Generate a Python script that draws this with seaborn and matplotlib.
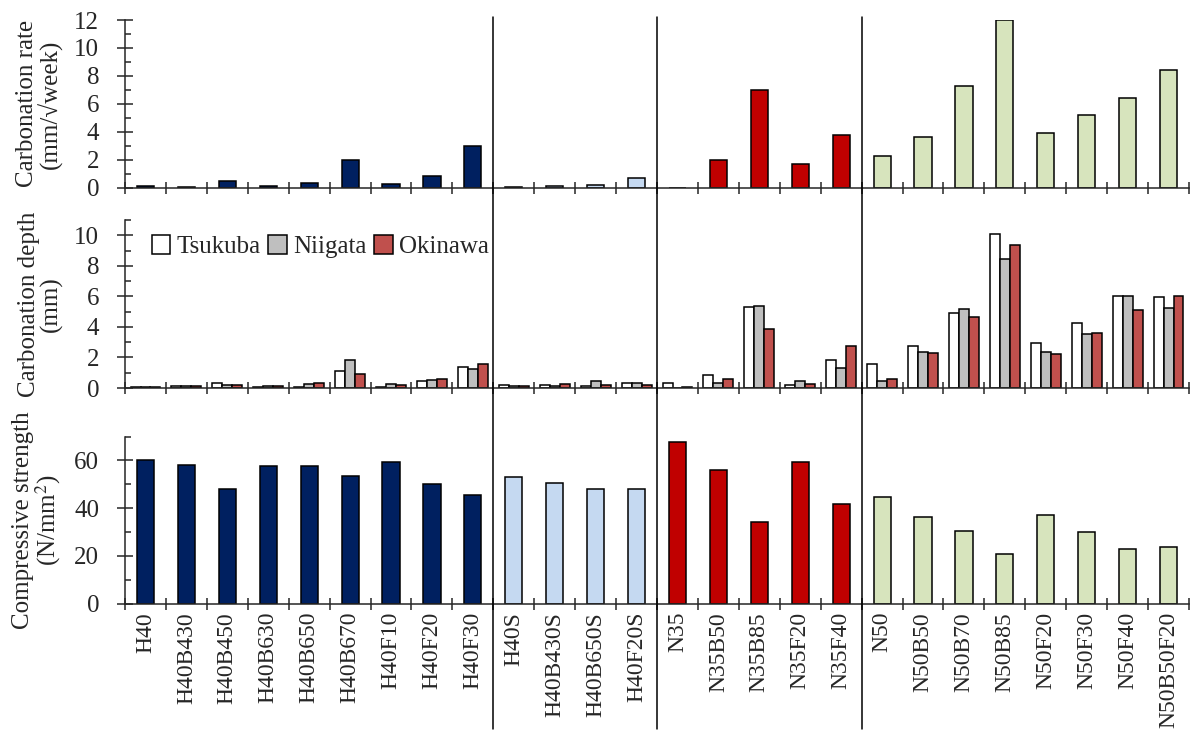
import numpy as np
import pandas as pd
import seaborn as sns
import matplotlib.pyplot as plt
from matplotlib.lines import Line2D
from matplotlib.patches import Patch
import matplotlib.transforms as mtransforms

# mixes, in plotting order
mixes = ['H40', 'H40B430', 'H40B450', 'H40B630', 'H40B650', 'H40B670', 'H40F10', 'H40F20', 'H40F30',
         'H40S', 'H40B430S', 'H40B650S', 'H40F20S',
         'N35', 'N35B50', 'N35B85', 'N35F20', 'N35F40',
         'N50', 'N50B50', 'N50B70', 'N50B85', 'N50F20', 'N50F30', 'N50F40', 'N50B50F20']
groups = ['H'] * 9 + ['HS'] * 4 + ['N35'] * 5 + ['N50'] * 8
group_colors = {'H': '#002060', 'HS': '#C5D9F1', 'N35': '#C00000', 'N50': '#D7E4BD'}

# carbonation rate (mm/sqrt(week))
carb_rate = [0.13, 0.08, 0.47, 0.13, 0.35, 1.95, 0.27, 0.83, 2.98,
             0.07, 0.14, 0.19, 0.67,
             0.0, 1.96, 6.99, 1.68, 3.74,
             2.30, 3.64, 7.26, 11.98, 3.93, 5.20, 6.44, 8.41]

# carbonation depth (mm) at three exposure sites
sites = ['Tsukuba', 'Niigata', 'Okinawa']
site_colors = {'Tsukuba': '#FFFFFF', 'Niigata': '#BFBFBF', 'Okinawa': '#C0504D'}
depth_tsukuba = [0.05, 0.13, 0.30, 0.05, 0.08, 1.14, 0.05, 0.44, 1.38,
                 0.22, 0.18, 0.13, 0.35,
                 0.31, 0.88, 5.28, 0.18, 1.86,
                 1.54, 2.74, 4.91, 10.09, 2.94, 4.23, 6.01, 5.94]
depth_niigata = [0.07, 0.13, 0.18, 0.12, 0.26, 1.84, 0.26, 0.53, 1.23,
                 0.13, 0.13, 0.44, 0.35,
                 0.0, 0.31, 5.35, 0.44, 1.29,
                 0.48, 2.37, 5.15, 8.44, 2.39, 3.53, 6.01, 5.26]
depth_okinawa = [0.07, 0.10, 0.20, 0.12, 0.30, 0.94, 0.22, 0.61, 1.56,
                 0.13, 0.26, 0.22, 0.22,
                 0.04, 0.57, 3.86, 0.29, 2.74,
                 0.61, 2.32, 4.67, 9.34, 2.24, 3.62, 5.11, 6.03]

# compressive strength (N/mm2)
strength = [60.0, 58.0, 47.9, 57.5, 57.5, 53.7, 59.3, 50.0, 45.4,
            53.1, 50.5, 48.2, 48.1,
            67.7, 55.9, 34.3, 59.3, 41.6,
            44.9, 36.2, 30.4, 21.0, 37.3, 29.9, 23.0, 23.7]

single = pd.DataFrame({'mix': mixes, 'group': groups, 'rate': carb_rate, 'strength': strength})
depth = pd.DataFrame({'mix': mixes * 3,
                      'site': np.repeat(sites, len(mixes)),
                      'depth': depth_tsukuba + depth_niigata + depth_okinawa})

sns.set_style('ticks')
plt.rcParams['font.family'] = ['Liberation Serif', 'DejaVu Serif']
plt.rcParams['mathtext.fontset'] = 'stix'
plt.rcParams['font.size'] = 17

fig = plt.figure(figsize=(11.92, 7.31), dpi=100)
ax1 = fig.add_axes([0.1049, 0.7432, 0.8926, 0.2294])
ax2 = fig.add_axes([0.1049, 0.4692, 0.8926, 0.2298])
ax3 = fig.add_axes([0.1049, 0.1742, 0.8926, 0.2285])

bar_kw = dict(edgecolor='black', linewidth=1.1, legend=False, saturation=1)
sns.barplot(data=single, x='mix', y='rate', hue='group', palette=group_colors, order=mixes,
            dodge=False, width=0.42, ax=ax1, **bar_kw)
sns.barplot(data=depth, x='mix', y='depth', hue='site', palette=site_colors, order=mixes,
            hue_order=sites, width=0.73, ax=ax2, **bar_kw)
sns.barplot(data=single, x='mix', y='strength', hue='group', palette=group_colors, order=mixes,
            dodge=False, width=0.42, ax=ax3, **bar_kw)

ylims = [(0, 12), (0, 11), (0, 70)]
majors = [2, 2, 20]
minors = [1, 1, 10]
ylabels = ['Carbonation rate\n(mm/\u221aweek)', 'Carbonation depth\n(mm)', 'Compressive strength\n(N/mm$^2$)']
for ax, yl, mj, mn, lab in zip([ax1, ax2, ax3], ylims, majors, minors, ylabels):
    ax.set_xlim(-0.5, len(mixes) - 0.5)
    ax.set_ylim(*yl)
    ax.set_yticks(np.arange(yl[0], yl[1] + 0.01, mj))
    ax.set_yticks(np.arange(yl[0], yl[1] + 0.01, mn), minor=True)
    ax.set_xticks(np.arange(len(mixes)))
    ax.set_xticks(np.arange(len(mixes) + 1) - 0.5, minor=True)
    ax.tick_params(axis='y', which='major', direction='inout', length=11, width=1.1, labelsize=18, pad=13)
    ax.tick_params(axis='y', which='minor', direction='in', length=4, width=1.1)
    ax.tick_params(axis='x', which='major', length=0)
    ax.tick_params(axis='x', which='minor', direction='inout', length=9, width=1.1)
    ax.set_ylabel(lab, fontsize=18, linespacing=1.0)
    ax.yaxis.set_label_coords(-0.058, 0.5)
    ax.set_xlabel('')
    sns.despine(ax=ax)
    for s in ['left', 'bottom']:
        ax.spines[s].set_linewidth(1.1)

ax1.set_xticklabels([])
ax2.set_xticklabels([])
ax3.set_xticklabels(mixes, rotation=90, fontsize=17)
ax3.tick_params(axis='x', which='major', pad=6)

handles = [Patch(facecolor=site_colors[s], edgecolor='black', linewidth=1.1) for s in sites]
ax2.legend(handles, sites, loc='center left', bbox_to_anchor=(0.025, 0.84), ncol=3, frameon=False,
           fontsize=18, handlelength=0.75, handleheight=0.75, handletextpad=0.25, columnspacing=0.3,
           borderaxespad=0, borderpad=0)

# group separators running through all three panels
trans = mtransforms.blended_transform_factory(ax1.transData, fig.transFigure)
for xb in [8.5, 12.5, 17.5]:
    fig.add_artist(Line2D([xb, xb], [0.977, 0.003], transform=trans, color='black', linewidth=1.1))

fig.savefig('out.png', dpi=100)
